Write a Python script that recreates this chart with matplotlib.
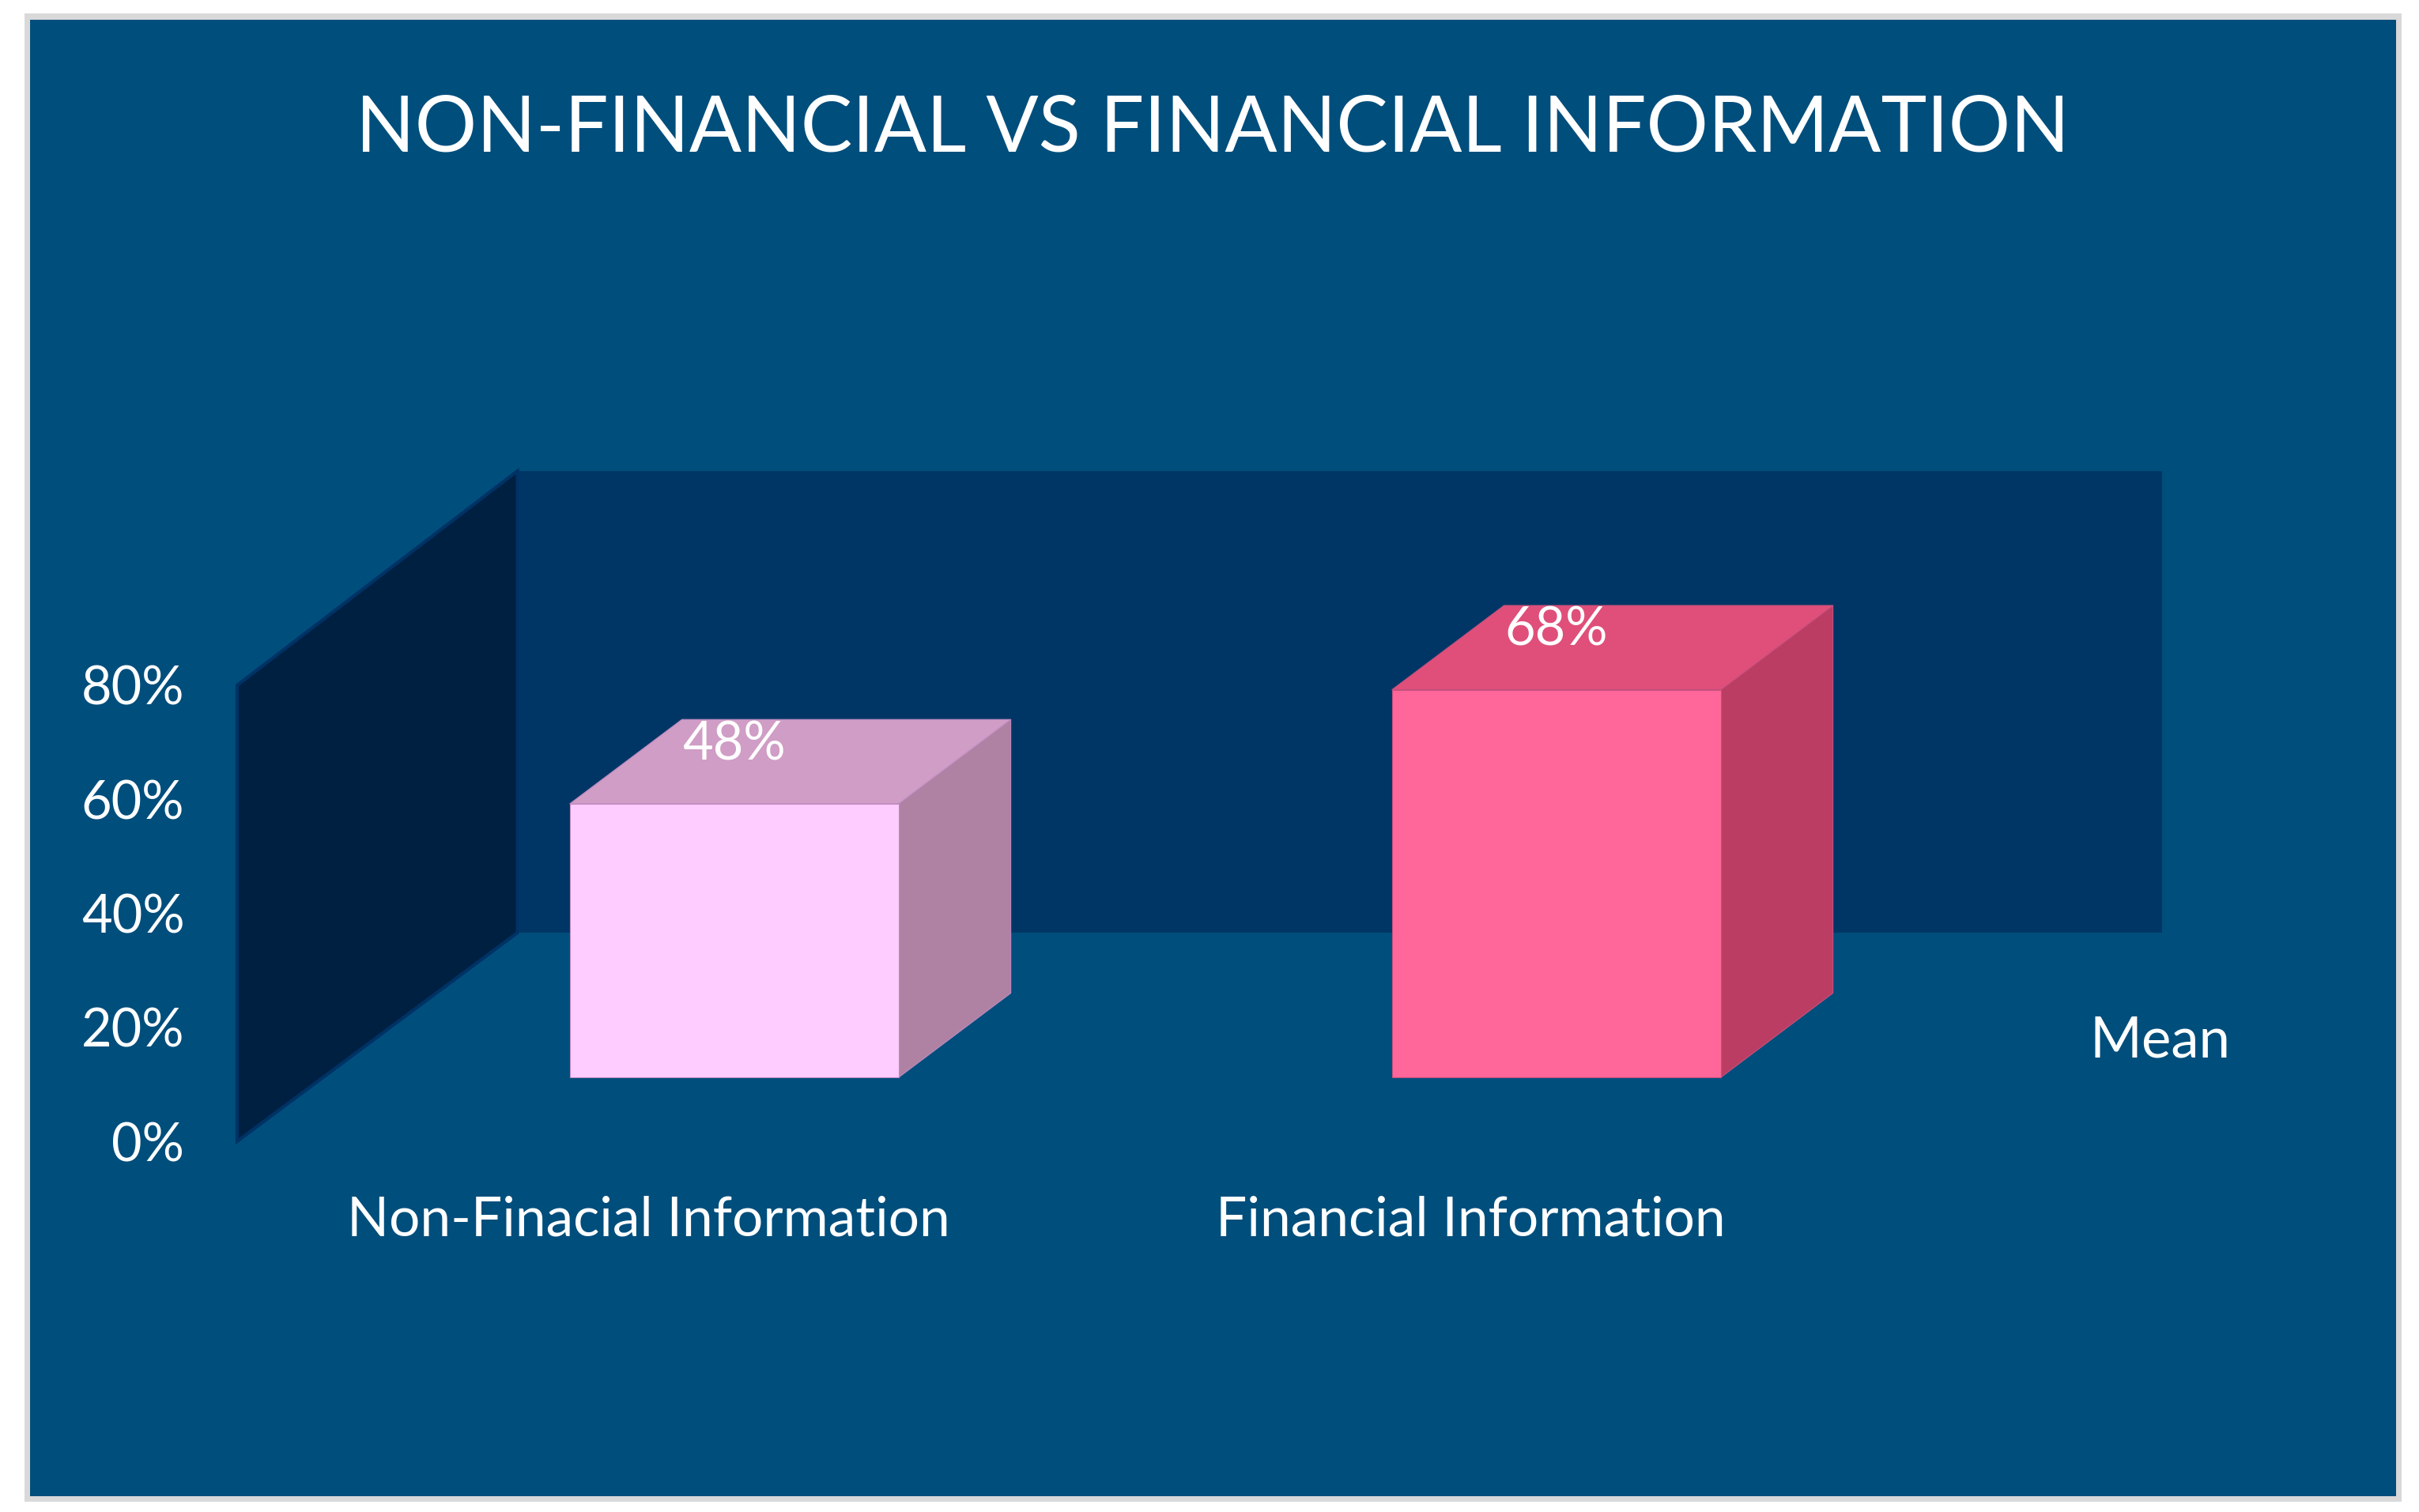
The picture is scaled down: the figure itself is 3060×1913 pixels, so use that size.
#!/usr/bin/env python3

""" Non-financial vs financial information, 3D look column chart """

import matplotlib
matplotlib.use("Agg")
import matplotlib.pyplot as plt
from matplotlib.patches import Rectangle

categories = ["Non-Finacial Information", "Financial Information"]
values = [48, 68]
value_labels = ["48%", "68%"]
y_ticks = [0, 20, 40, 60, 80]
y_tick_labels = ["0%", "20%", "40%", "60%", "80%"]
title = "NON-FINANCIAL VS FINANCIAL INFORMATION"
series_name = "Mean"

front_colors = ["#FFCCFF", "#FF6699"]
top_colors = ["#CF9DC5", "#DF4F7A"]
side_colors = ["#AF82A3", "#BB3D63"]
edge_colors = ["#C08AC0", "#C8507E"]

W, H = 3060, 1913
plt.rcParams["font.family"] = ["Lato", "DejaVu Sans"]

fig = plt.figure(figsize=(W / 100, H / 100), dpi=100, facecolor="white")

# frame
fig.add_artist(Rectangle((31 / W, 1 - 1900 / H), 3007 / W, 1883 / H, transform=fig.transFigure,
                         facecolor="#D9D9D9", edgecolor="none", zorder=-2))
fig.add_artist(Rectangle((38 / W, 1 - 1893 / H), 2993 / W, 1868 / H, transform=fig.transFigure,
                         facecolor="#004E7C", edgecolor="none", zorder=-1))

ax = fig.add_axes([300 / W, 1 - 1444 / H, 2080 / W, 577 / H])
ax.patch.set_visible(False)
ax.set_xlim(-0.5, 1.5)
ax.set_ylim(0, 80)
for s in ax.spines.values():
    s.set_visible(False)

# depth of the fake 3d box, in data units
wall_dx, wall_dy = 0.341, 36.6
wall_top = 81
bar_dx, bar_dy = 0.1365, 14.8
shift_x, shift_y = 0.1045, 11.2
half = 0.2

# walls
ax.fill([-0.5 + wall_dx, 1.5 + wall_dx, 1.5 + wall_dx, -0.5 + wall_dx],
        [wall_dy, wall_dy, wall_top + wall_dy, wall_top + wall_dy],
        facecolor="#003665", edgecolor="none", clip_on=False, zorder=1)
ax.fill([-0.5, -0.5 + wall_dx, -0.5 + wall_dx, -0.5],
        [0, wall_dy, wall_top + wall_dy, 80],
        facecolor="#002042", edgecolor="#003265", linewidth=3, clip_on=False, zorder=2)

# bars
for i, v in enumerate(values):
    x0 = i + shift_x - half
    x1 = i + shift_x + half
    y0 = shift_y
    y1 = shift_y + v
    ax.fill([x1, x1 + bar_dx, x1 + bar_dx, x1], [y0, y0 + bar_dy, y1 + bar_dy, y1],
            facecolor=side_colors[i], edgecolor=edge_colors[i], linewidth=0.8, clip_on=False, zorder=3)
    ax.fill([x0, x1, x1 + bar_dx, x0 + bar_dx], [y1, y1, y1 + bar_dy, y1 + bar_dy],
            facecolor=top_colors[i], edgecolor=edge_colors[i], linewidth=0.8, clip_on=False, zorder=3)
    ax.fill([x0, x1, x1, x0], [y0, y0, y1, y1],
            facecolor=front_colors[i], edgecolor=edge_colors[i], linewidth=0.8, clip_on=False, zorder=4)
    ax.text(i + shift_x, y1 + 10.4, value_labels[i], color="white", fontsize=48,
            ha="center", va="center", clip_on=False, zorder=5)

ax.set_yticks(y_ticks)
ax.set_yticklabels(y_tick_labels)
ax.set_xticks(range(len(categories)))
ax.set_xticklabels(categories)
ax.tick_params(axis="y", length=0, pad=48, labelsize=48, labelcolor="white")
ax.tick_params(axis="x", length=0, pad=49, labelsize=50, labelcolor="white")

fig.text(2732 / W, 1 - 1317 / H, series_name, color="white", fontsize=51, ha="center", va="center")
fig.text(1534 / W, 1 - 164 / H, title, color="white", fontsize=70.5, ha="center", va="center")

fig.savefig("out.png", dpi=100, facecolor="white")
